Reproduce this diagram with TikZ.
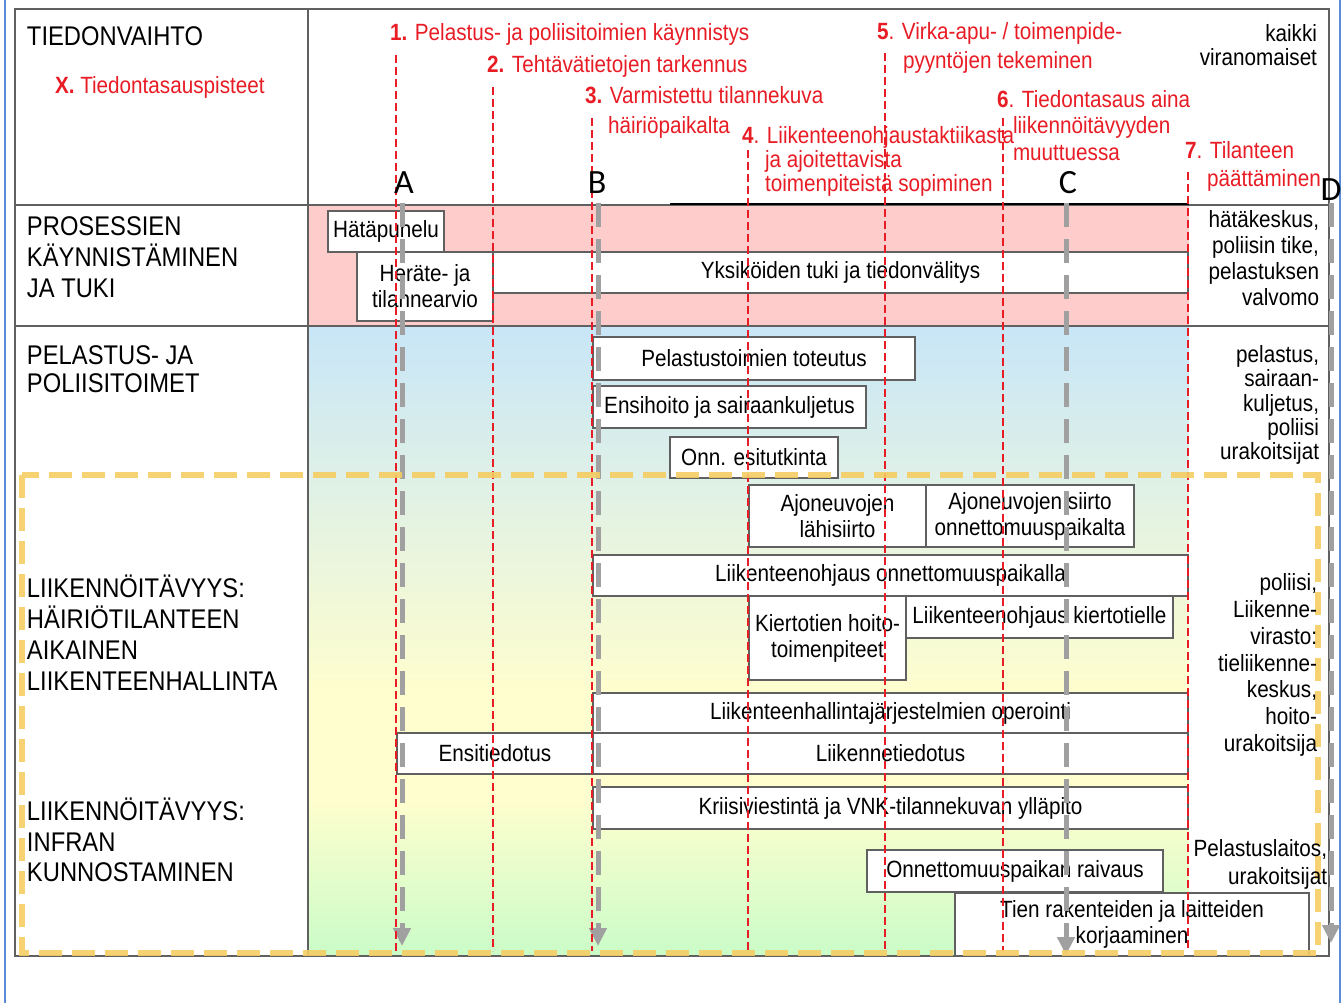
\documentclass[tikz,border=0pt]{standalone}
\usepackage{fontspec}
\setmainfont{Liberation Sans}[FakeStretch=0.88]
\newfontfamily\vaihefont{Carlito}
\usetikzlibrary{positioning,arrows.meta}

\definecolor{tasred}{RGB}{232,28,36}
\definecolor{rajaus}{RGB}{96,96,96}
\definecolor{pinkki}{RGB}{255,204,204}
\definecolor{sininen}{RGB}{200,230,248}
\definecolor{keltainen}{RGB}{254,254,206}
\definecolor{vihrea}{RGB}{202,252,200}
\definecolor{harmaa}{RGB}{160,160,160}
\definecolor{kelta}{RGB}{245,205,100}
\definecolor{kehys}{RGB}{90,140,215}

\newcommand{\boxfont}{\fontsize{23.5}{26}\selectfont}
\newcommand{\catfont}{\fontsize{27}{31}\selectfont}

\begin{document}
\begin{tikzpicture}[x=1pt, y=-1pt,
  every node/.style = {inner sep=0pt, outer sep=0pt},
  box/.style = {draw=rajaus, fill=white, line width=1.2pt,
    align=center, font=\boxfont},
  kategoria/.style = {anchor=west, align=left, font=\catfont},
  toimija/.style = {anchor=east, align=right, font=\fontsize{23.5}{26}\selectfont},
  tasaus/.style = {anchor=west, align=left, text=tasred,
    font=\fontsize{23.5}{28}\selectfont},
  tasausviiva/.style = {draw=tasred, line width=1.6pt, dash pattern=on 8pt off 4pt},
  vaihe/.style = {font=\vaihefont\fontsize{34}{34}\selectfont},
  vaiheviiva/.style = {draw=harmaa, line width=5pt, dash pattern=on 24pt off 12pt,
    -{Triangle[width=17pt,length=18pt]}}]
  \useasboundingbox (0,0) rectangle (1343,1003);

  % taustat
  \fill[pinkki] (308,205) rectangle (1189,326);
  \shade[top color=sininen, bottom color=keltainen] (308,327) rectangle (1189,690);
  \fill[keltainen] (308,689) rectangle (1189,801);
  \shade[top color=keltainen, bottom color=vihrea] (308,800) rectangle (1189,956);

  % taulukko
  \draw[kehys, line width=2pt] (5,0) -- (5,1003);
  \draw[kehys, line width=2pt] (1340,0) -- (1340,1003);
  \draw[rajaus, line width=1.5pt] (15,9) rectangle (1329,956);
  \draw[rajaus, line width=1.5pt] (308,9) -- (308,956);
  \draw[rajaus, line width=1.5pt] (15,205) -- (1329,205);
  \draw[rajaus, line width=1.5pt] (15,326) -- (1329,326);
  \draw[black, line width=2pt] (670,204) -- (1189,204);

  % tehtavat
  \node[box, minimum width=116, minimum height=41] (hatapuhelu) at (386,231.5) {Hätäpuhelu};
  \node[box, minimum width=136, minimum height=69] (herate) at (425,286.5) {Heräte- ja\\tilannearvio};
  \node[box, minimum width=695, minimum height=41, anchor=north west] (yksikot)
    at (herate.north east) {Yksiköiden tuki ja tiedonvälitys};
  \node[box, minimum width=322, minimum height=43] (pelastus) at (754,358.5) {Pelastustoimien toteutus};
  \node[box, minimum width=273, minimum height=42, anchor=north west] (ensihoito)
    at (593,386) {Ensihoito ja sairaankuljetus};
  \node[box, minimum width=168, minimum height=41] (esitutkinta) at (754,457.5) {Onn. esitutkinta};
  \node[box, minimum width=177, minimum height=62] (lahisiirto) at (837.5,516) {Ajoneuvojen\\lähisiirto};
  \node[box, minimum width=208, minimum height=62, right=0pt of lahisiirto] (siirto)
    {Ajoneuvojen siirto\\onnettomuuspaikalta};
  \node[box, minimum width=595, minimum height=41] (ohjaus) at (890.5,575.5)
    {Liikenteenohjaus onnettomuuspaikalla};
  \node[box, minimum width=157, minimum height=84, anchor=north west] (kiertotiet)
    at (749,596) {Kiertotien hoito-\\toimenpiteet};
  \node[box, minimum width=267, minimum height=42, anchor=north west] (kiertotie)
    at (kiertotiet.north east) {Liikenteenohjaus kiertotielle};
  \node[box, minimum width=595, minimum height=40] (operointi) at (890.5,713)
    {Liikenteenhallintajärjestelmien operointi};
  \node[box, minimum width=595, minimum height=41, below=0pt of operointi] (tiedotus) {Liikennetiedotus};
  \node[box, minimum width=196, minimum height=41, left=0pt of tiedotus] (ensitiedotus) {Ensitiedotus};
  \node[box, minimum width=595, minimum height=42] (kriisi) at (890.5,808)
    {Kriisiviestintä ja VNK-tilannekuvan ylläpito};
  \node[box, minimum width=296, minimum height=42] (raivaus) at (1015,871) {Onnettomuuspaikan raivaus};
  \node[box, minimum width=354, minimum height=63, anchor=north west] (korjaus)
    at (955,893) {Tien rakenteiden ja laitteiden\\korjaaminen};

  % vaiheet A-D
  \foreach \v/\x/\yb in {A/402/946, B/598/946, C/1066/955, D/1331/943} {
    \coordinate (\v alku) at (\x,203);
    \coordinate (\v loppu) at (\x,\yb);
    \draw[vaiheviiva] (\v alku) -- (\v loppu);
  }

  % tiedontasauspisteet
  \foreach \x/\yt [count=\i] in {396/55, 493/87, 592/118, 748/150, 885/53, 1003/118, 1188/172} {
    \coordinate (t\i) at (\x,\yt);
    \coordinate (t\i b) at (\x,951);
    \draw[tasausviiva] (t\i) -- (t\i b);
  }

  % liikennoitavyys
  \draw[draw=kelta, draw opacity=0.9, line width=6.5pt, dash pattern=on 23pt off 10pt]
    (22,475) rectangle (1318,953);

  % rivien otsikot
  \node[kategoria] (tiedonvaihto) at (27,36) {TIEDONVAIHTO};
  \node[tasaus] (selite) at (55,87) {\textbf{X.} Tiedontasauspisteet};
  \node[kategoria] (prosessit) at (27,257) {PROSESSIEN\\KÄYNNISTÄMINEN\\JA TUKI};
  \node[kategoria, font=\fontsize{27}{28}\selectfont] (toimet) at (27,369) {PELASTUS- JA\\POLIISITOIMET};
  \node[kategoria] (hallinta) at (27,633) {LIIKENNÖITÄVYYS:\\HÄIRIÖTILANTEEN\\AIKAINEN\\LIIKENTEENHALLINTA};
  \node[kategoria, font=\fontsize{27}{30.5}\selectfont] (infra) at (27,840) {LIIKENNÖITÄVYYS:\\INFRAN\\KUNNOSTAMINEN};

  % toimijat
  \node[toimija, font=\fontsize{23.5}{24}\selectfont] (kaikki) at (1317,45) {kaikki\\viranomaiset};
  \node[toimija] (hatakeskus) at (1319,258) {hätäkeskus,\\poliisin tike,\\pelastuksen\\valvomo};
  \node[toimija, font=\fontsize{23.5}{24.3}\selectfont] (pelastajat) at (1319,405)
    {pelastus,\\sairaan-\\kuljetus,\\poliisi\\urakoitsijat};
  \node[toimija, font=\fontsize{23.5}{26.8}\selectfont] (liikenne) at (1317,665)
    {poliisi,\\Liikenne-\\virasto:\\tieliikenne-\\keskus,\\hoito-\\urakoitsija};
  \node[toimija, font=\fontsize{23.5}{28}\selectfont] (raivaajat) at (1327,864)
    {Pelastuslaitos,\\urakoitsijat};

  % tiedontasauspisteiden tekstit
  \node[tasaus] (p1) at (390,34) {\textbf{1.} Pelastus- ja poliisitoimien käynnistys};
  \node[tasaus] (p2) at (487,66) {\textbf{2.} Tehtävätietojen tarkennus};
  \node[tasaus, font=\fontsize{23.5}{30}\selectfont] (p3) at (585,112)
    {\textbf{3.} Varmistettu tilannekuva\\\hspace*{23pt}häiriöpaikalta};
  \node[tasaus, font=\fontsize{23.5}{24}\selectfont] (p4) at (742,161)
    {\textbf{4}. Liikenteenohjaustaktiikasta\\\hspace*{23pt}ja ajoitettavista\\\hspace*{23pt}toimenpiteistä sopiminen};
  \node[tasaus, font=\fontsize{23.5}{29}\selectfont] (p5) at (877,47.5)
    {\textbf{5}. Virka-apu- / toimenpide-\\\hspace*{26pt}pyyntöjen tekeminen};
  \node[tasaus, font=\fontsize{23.5}{26.5}\selectfont] (p6) at (997,125.5)
    {\textbf{6}. Tiedontasaus aina\\\hspace*{16pt}liikennöitävyyden\\\hspace*{16pt}muuttuessa};
  \node[tasaus] (p7) at (1185,166) {\textbf{7}. Tilanteen\\\hspace*{22pt}päättäminen};

  \node[vaihe] (A) at (404,183) {A};
  \node[vaihe] (B) at (597,183) {B};
  \node[vaihe] (C) at (1068,183) {C};
  \node[vaihe] (D) at (1331,190) {D};
\end{tikzpicture}
\end{document}
